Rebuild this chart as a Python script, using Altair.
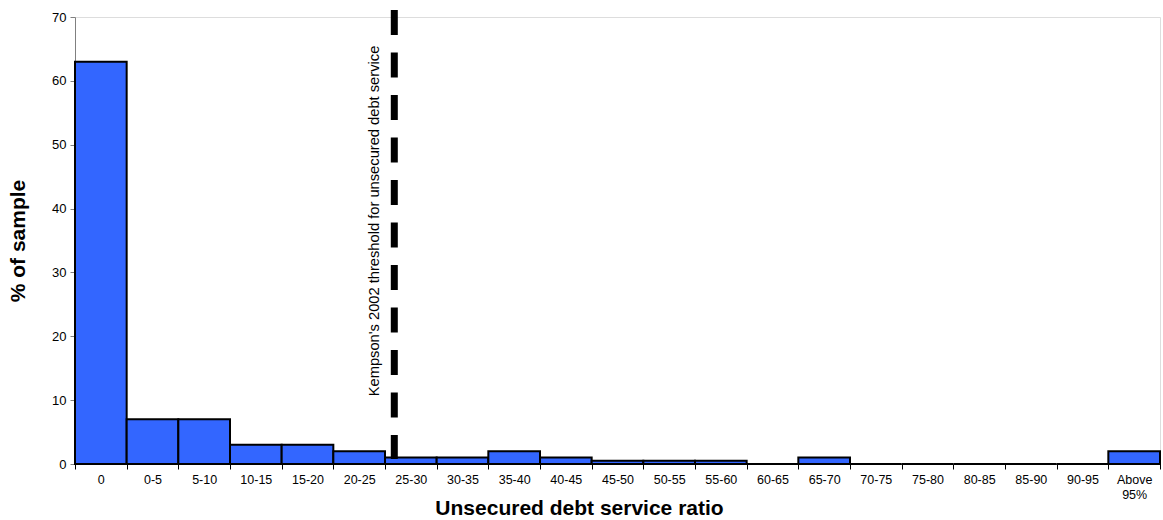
import altair as alt
import pandas as pd

# Share of the sample in each unsecured debt service ratio band (%)
bands = ["0", "0-5", "5-10", "10-15", "15-20", "20-25", "25-30", "30-35",
         "35-40", "40-45", "45-50", "50-55", "55-60", "60-65", "65-70",
         "70-75", "75-80", "80-85", "85-90", "90-95", "Above 95%"]
share = [63, 7, 7, 3, 3, 2, 1, 1, 2, 1, 0.5, 0.5, 0.5, 0, 1,
         0, 0, 0, 0, 0, 2]

threshold_band = ["25-30"]
threshold_pos = [0.18]
note_text = ["Kempson's 2002 threshold for unsecured debt service"]

df = pd.DataFrame({"band": bands, "share": share})
thr = pd.DataFrame({"band": threshold_band, "pos": threshold_pos})
note = pd.DataFrame({"band": ["20-25"], "text": note_text})

FONT = "Liberation Sans"

x_scale = alt.Scale(domain=bands, paddingInner=0, paddingOuter=0)

bars = alt.Chart(df).mark_bar(
    color="#3366FF", stroke="black", strokeWidth=2
).encode(
    x=alt.X("band:N", sort=bands, scale=x_scale,
            title="Unsecured debt service ratio",
            axis=alt.Axis(
                labelAngle=0, tickBand="extent", tickSize=5,
                domainColor="#808080", tickColor="black",
                labelFont=FONT, labelFontSize=12.5, labelColor="black",
                labelPadding=4, labelLineHeight=15,
                labelExpr="datum.value == 'Above 95%' ? ['Above', '95%'] : datum.value",
                titleFont=FONT, titleFontSize=21, titleFontWeight="bold",
                titleColor="black", titleX=504, titleAlign="center",
                titleY=44, titleBaseline="middle")),
    y=alt.Y("share:Q", scale=alt.Scale(domain=[0, 70], nice=False),
            title="% of sample",
            axis=alt.Axis(
                values=[0, 10, 20, 30, 40, 50, 60, 70], grid=False,
                tickSize=5, domainColor="#808080", tickColor="#808080",
                labelFont=FONT, labelFontSize=13, labelColor="black",
                labelPadding=4,
                titleFont=FONT, titleFontSize=21, titleFontWeight="bold",
                titleColor="black", titlePadding=23)),
)

rule = alt.Chart(thr).mark_rule(
    color="black", strokeWidth=7, strokeDash=[25, 17.5]
).encode(
    x=alt.X("band:N", sort=bands, scale=x_scale, bandPosition=0.18),
    y=alt.value(-7),
    y2=alt.value(442),
)

label = alt.Chart(note).mark_text(
    angle=270, align="center", baseline="middle",
    font=FONT, fontSize=14.7, color="black"
).encode(
    x=alt.X("band:N", sort=bands, scale=x_scale, bandPosition=0.81),
    y=alt.value(204),
    text="text:N",
)

chart = alt.layer(bars, rule, label).properties(
    width=1085, height=447,
    autosize=alt.AutoSizeParams(type="none"),
    padding={"left": 75, "top": 17, "right": 3, "bottom": 56},
).configure_view(stroke=None).configure(background="white")

chart.save("out.html", embed_options={"renderer": "svg", "actions": False})
